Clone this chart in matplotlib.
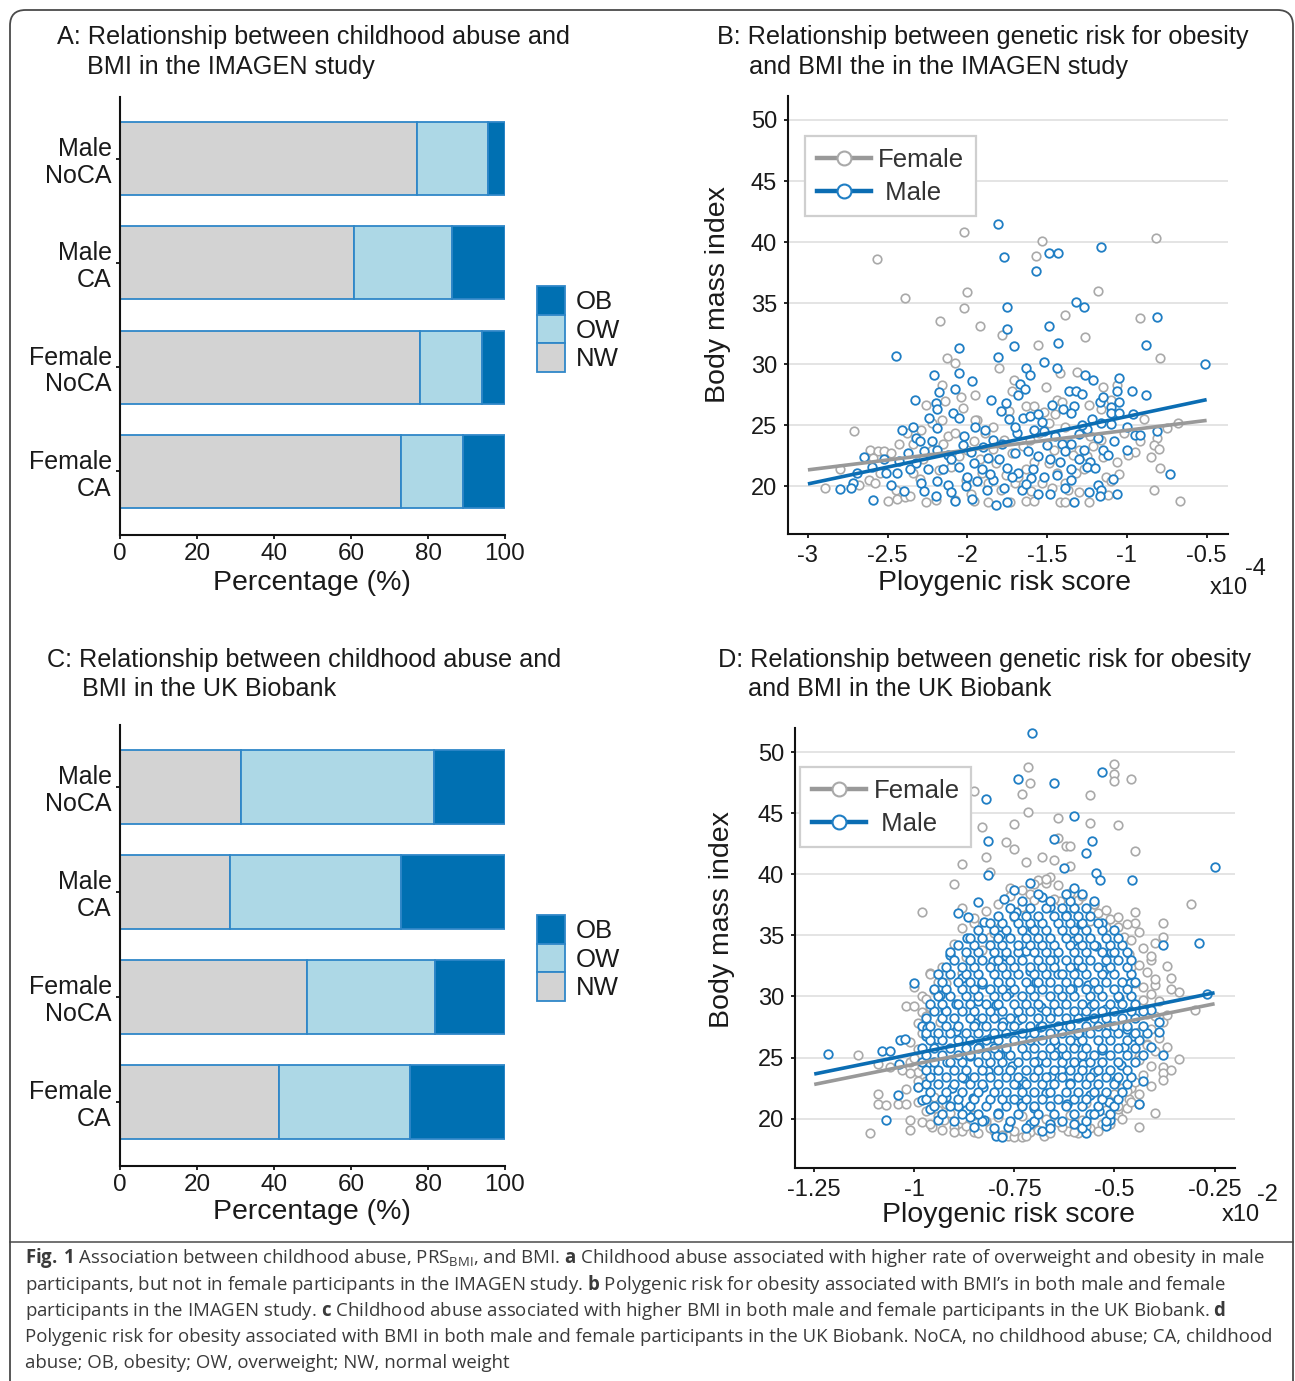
import numpy as np
import matplotlib
matplotlib.use("Agg")
import matplotlib.pyplot as plt
from matplotlib.lines import Line2D
from matplotlib.patches import Patch, FancyBboxPatch

plt.rcParams['font.family'] = ['Liberation Sans', 'DejaVu Sans']
plt.rcParams['mathtext.fontset'] = 'custom'
plt.rcParams['mathtext.rm'] = 'Open Sans'
plt.rcParams['mathtext.bf'] = 'Open Sans:bold'

W, H = 1295, 1381


def fx(px):
    return px / W


def fy(py):
    return 1 - py / H


# ---------------- data ----------------
groups = ['Male\nNoCA', 'Male\nCA', 'Female\nNoCA', 'Female\nCA']
weight_classes = ['OB', 'OW', 'NW']

# IMAGEN (panel A), percentages
imagen_nw = [77.1, 60.8, 77.9, 73.0]
imagen_ow = [18.5, 25.4, 16.1, 16.1]
imagen_ob = [4.4, 13.8, 6.0, 10.9]

# UK Biobank (panel C), percentages
ukb_nw = [31.4, 28.6, 48.6, 41.3]
ukb_ow = [50.2, 44.4, 33.2, 34.0]
ukb_ob = [18.4, 27.0, 18.2, 24.7]

# panel B: PRS (x1e-4) vs BMI
b_female = [
    (-2.57, 38.6), (-2.02, 40.8), (-1.53, 40.1), (-1.57, 38.9), (-0.82, 40.3), (-2.39, 35.4), (-2.00, 35.9),
    (-2.02, 34.6), (-1.18, 36.0), (-1.39, 34.0), (-0.92, 33.8), (-2.17, 33.5), (-1.92, 33.1), (-1.78, 32.4),
    (-1.56, 31.6), (-1.26, 32.2), (-0.79, 30.5), (-2.13, 30.5), (-2.08, 30.1), (-1.80, 29.7), (-1.42, 29.3),
    (-1.31, 29.4), (-1.71, 28.7), (-2.16, 28.3), (-1.51, 28.1), (-1.15, 28.1), (-1.72, 27.8), (-1.06, 28.3),
    (-1.95, 27.5), (-2.14, 27.0), (-2.26, 26.7), (-2.04, 27.3), (-1.44, 27.1), (-1.41, 26.9), (-1.63, 26.6),
    (-1.58, 26.6), (-1.24, 26.7), (-1.74, 26.2), (-2.03, 26.4), (-1.52, 26.1), (-1.16, 26.3), (-1.10, 27.1),
    (-2.16, 25.4), (-1.94, 25.4), (-0.89, 25.5), (-0.68, 25.2), (-0.75, 24.8), (-2.71, 24.5), (-2.43, 23.5),
    (-0.81, 24.0), (-0.83, 23.4), (-0.80, 23.1), (-1.16, 23.8), (-1.06, 22.0), (-0.95, 22.8), (-0.99, 22.6),
    (-0.79, 21.5), (-0.83, 19.7), (-0.67, 18.8), (-1.13, 20.8), (-1.10, 20.4), (-2.80, 21.4), (-2.89, 19.9),
    (-2.61, 23.0), (-2.56, 22.9), (-2.52, 22.9), (-2.48, 22.7), (-2.59, 22.3), (-2.50, 18.8), (-2.44, 19.0),
    (-2.39, 19.1), (-2.36, 19.2), (-2.26, 18.7), (-2.20, 18.9), (-2.08, 18.9), (-1.96, 18.8), (-1.87, 18.7),
    (-1.73, 18.7), (-1.63, 18.8), (-1.58, 18.8), (-1.42, 18.7), (-1.39, 18.7), (-1.24, 18.7), (-1.37, 19.7),
    (-1.30, 19.5), (-2.62, 20.5), (-2.58, 20.3), (-2.68, 20.1), (-2.55, 21.1), (-2.45, 19.7), (-2.34, 21.1),
    (-2.28, 22.2), (-2.22, 23.0), (-2.12, 24.1), (-2.08, 24.4), (-2.15, 23.5), (-2.05, 22.5), (-2.00, 23.0),
    (-1.96, 23.7), (-2.10, 21.6), (-1.91, 21.1), (-2.01, 20.5), (-1.87, 20.3), (-1.79, 19.7), (-1.70, 20.3),
    (-1.68, 20.8), (-1.63, 21.4), (-1.82, 21.9), (-1.72, 22.7), (-1.65, 23.3), (-1.61, 23.8), (-1.55, 24.4),
    (-1.49, 25.2), (-1.45, 25.9), (-1.39, 24.9), (-1.37, 23.5), (-1.30, 23.0), (-1.25, 22.5), (-1.21, 23.3),
    (-1.23, 24.1), (-1.49, 21.9), (-1.44, 21.1), (-1.53, 20.3), (-1.39, 20.3), (-1.32, 21.1), (-1.77, 23.8),
    (-1.84, 24.9), (-1.89, 24.4), (-1.95, 25.4), (-2.22, 25.2), (-2.29, 24.6), (-2.38, 24.4), (-2.34, 23.5),
    (-1.92, 22.2), (-1.84, 23.1), (-1.58, 22.0), (-1.46, 23.0), (-1.34, 22.6), (-1.27, 21.4), (-1.15, 22.4),
    (-1.05, 21.0), (-2.18, 21.3), (-2.30, 20.6), (-1.98, 19.4), (-1.76, 20.9), (-1.60, 19.6), (-1.47, 19.9),
    (-1.12, 19.3), (-1.02, 24.4), (-0.92, 23.7), (-0.85, 22.4),
]
b_male = [
    (-1.81, 41.5), (-1.77, 38.8), (-1.49, 39.1), (-1.43, 39.1), (-1.16, 39.6), (-1.57, 37.6), (-1.32, 35.1),
    (-1.27, 34.7), (-1.75, 34.7), (-0.81, 33.9), (-1.75, 32.9), (-1.49, 33.1), (-2.05, 31.3), (-1.71, 31.5),
    (-1.43, 31.7), (-0.88, 31.6), (-2.45, 30.7), (-1.81, 30.6), (-1.52, 30.2), (-1.63, 29.7), (-1.44, 29.7),
    (-0.51, 30.0), (-2.21, 29.1), (-2.05, 29.3), (-1.61, 29.1), (-1.26, 29.1), (-1.05, 28.9), (-1.21, 28.7),
    (-1.97, 28.6), (-1.67, 28.4), (-2.08, 28.0), (-2.18, 27.7), (-1.64, 28.0), (-1.68, 27.5), (-1.36, 27.8),
    (-1.32, 27.8), (-1.28, 27.6), (-0.97, 27.8), (-1.06, 27.8), (-0.88, 27.5), (-2.33, 27.1), (-1.85, 27.1),
    (-2.20, 26.8), (-1.76, 26.8), (-1.17, 26.9), (-1.15, 27.3), (-1.05, 26.9), (-1.10, 26.5), (-2.19, 26.3),
    (-1.79, 26.2), (-1.47, 26.7), (-1.33, 26.6), (-1.40, 26.3), (-1.10, 26.0), (-1.05, 26.0), (-0.96, 25.9),
    (-2.09, 26.0), (-2.05, 25.6), (-2.24, 25.6), (-1.74, 25.5), (-1.65, 25.6), (-1.61, 25.8), (-1.53, 25.3),
    (-1.22, 25.5), (-1.16, 25.2), (-2.34, 24.9), (-2.19, 24.8), (-1.95, 24.9), (-1.89, 24.6), (-2.41, 24.6),
    (-1.58, 24.6), (-1.52, 24.5), (-1.00, 24.9), (-0.81, 24.5), (-1.69, 24.4), (-1.25, 24.7), (-2.32, 24.0),
    (-2.02, 24.1), (-1.84, 23.8), (-0.95, 24.2), (-0.92, 24.2), (-2.30, 23.7), (-2.22, 23.7), (-1.41, 23.5),
    (-1.35, 23.5), (-2.65, 22.4), (-2.37, 22.7), (-2.27, 22.9), (-2.19, 23.0), (-2.12, 22.6), (-1.70, 22.7),
    (-1.39, 22.9), (-1.27, 23.0), (-1.15, 23.0), (-1.00, 23.0), (-2.52, 22.2), (-2.43, 22.1), (-2.32, 21.9),
    (-2.10, 22.2), (-1.96, 21.9), (-1.87, 22.3), (-1.80, 22.2), (-1.56, 22.5), (-1.48, 22.2), (-1.30, 22.2),
    (-1.23, 22.0), (-2.60, 21.6), (-2.51, 21.1), (-2.44, 21.1), (-2.36, 21.4), (-2.25, 21.4), (-2.15, 21.4),
    (-2.05, 21.6), (-1.91, 21.4), (-1.75, 21.5), (-1.68, 21.1), (-1.59, 21.4), (-1.35, 21.4), (-1.25, 21.6),
    (-0.73, 21.0), (-2.69, 21.1), (-2.72, 20.3), (-2.48, 20.1), (-2.29, 20.3), (-2.19, 20.4), (-2.12, 20.1),
    (-2.00, 20.8), (-1.94, 20.4), (-1.84, 20.5), (-1.72, 20.8), (-1.60, 20.7), (-1.52, 20.8), (-1.44, 20.9),
    (-1.35, 20.5), (-1.18, 20.1), (-1.09, 20.6), (-2.80, 19.8), (-2.73, 19.9), (-2.40, 19.6), (-2.27, 19.6),
    (-2.10, 19.5), (-2.01, 20.0), (-1.88, 19.7), (-1.77, 19.9), (-1.56, 19.4), (-1.48, 19.4), (-1.24, 19.5),
    (-1.16, 19.7), (-1.06, 19.4), (-2.59, 18.9), (-2.20, 19.2), (-2.08, 18.8), (-1.97, 19.0), (-1.82, 18.5),
    (-1.75, 18.7), (-1.33, 18.7), (-1.17, 19.2), (-1.66, 19.7), (-1.39, 19.9), (-1.90, 23.2), (-1.78, 23.5),
    (-1.62, 22.9), (-1.50, 23.4), (-1.45, 24.1), (-1.30, 24.3), (-1.18, 24.0), (-1.08, 23.7), (-1.98, 22.8),
    (-1.86, 21.0), (-1.63, 20.2), (-1.42, 22.0), (-1.20, 21.5), (-1.12, 22.6), (-2.03, 23.4), (-1.70, 24.9),
    (-1.56, 25.9), (-1.35, 26.0), (-1.28, 25.0), (-1.10, 25.1),
]
b_fit_x = [-3.0, -0.5]
b_fit_female = [21.35, 25.4]
b_fit_male = [20.2, 27.1]

# panel D: PRS (x1e-2) vs BMI
d_female = [
    (-0.715, 48.8), (-0.71, 47.5), (-0.50, 49.0), (-0.50, 48.2), (-0.50, 47.6), (-0.46, 47.8), (-0.85, 46.8),
    (-0.73, 46.6), (-0.56, 46.5), (-0.715, 45.1), (-0.64, 44.6), (-0.56, 44.2), (-0.49, 44.0), (-0.89, 43.8),
    (-0.83, 43.9), (-0.75, 44.1), (-0.64, 43.0), (-0.77, 42.6), (-0.75, 42.1), (-0.62, 42.3), (-0.61, 42.3),
    (-0.45, 41.9), (-0.82, 41.4), (-0.68, 41.4), (-0.72, 41.0), (-0.65, 41.2), (-0.88, 40.8), (-0.81, 40.2),
    (-0.61, 40.7), (-0.90, 39.2), (-0.76, 38.9), (-0.98, 36.9), (-0.88, 37.2), (-0.85, 36.0), (-0.31, 37.6),
    (-0.45, 36.9), (-0.45, 36.0), (-0.38, 36.0), (-0.38, 34.9), (-0.40, 34.4), (-0.41, 33.0), (-0.36, 31.5),
    (-0.40, 30.9), (-0.34, 30.4), (-0.30, 28.9), (-0.34, 24.9), (-0.38, 24.2), (-0.38, 23.7), (-0.41, 22.7),
    (-0.40, 20.5), (-0.44, 19.3), (-0.465, 21.6), (-0.46, 22.5), (-0.48, 22.5), (-1.14, 25.2), (-1.09, 24.5),
    (-1.06, 24.2), (-1.03, 24.0), (-1.01, 24.6), (-0.99, 23.8), (-1.09, 22.0), (-1.09, 21.2), (-1.07, 21.1),
    (-1.04, 21.2), (-1.02, 21.2), (-1.01, 19.9), (-1.01, 19.1), (-1.11, 18.8), (-0.98, 19.7), (-0.955, 19.3),
    (-1.02, 29.2), (-1.00, 29.2), (-0.98, 28.7), (-0.98, 30.0), (-1.00, 30.8), (-0.96, 31.9), (-0.92, 31.1),
    (-0.935, 27.9), (-0.99, 22.6), (-0.97, 23.1), (-0.94, 20.7), (-0.925, 19.9), (-0.90, 19.3), (-0.88, 19.0),
    (-0.85, 18.9), (-0.80, 19.0), (-0.765, 18.6), (-0.75, 18.5), (-0.73, 18.5), (-0.71, 18.9), (-0.675, 18.6),
    (-0.615, 19.0), (-0.59, 18.8), (-0.56, 19.2), (-0.53, 19.6), (-0.49, 20.3), (-0.49, 20.8), (-0.47, 20.9),
    (-0.44, 21.2), (-0.44, 25.1), (-0.42, 26.1), (-0.44, 27.1), (-0.42, 28.6), (-0.43, 29.7), (-0.45, 31.1),
    (-0.46, 32.4), (-0.465, 33.5), (-0.475, 34.9), (-0.49, 35.7), (-0.51, 36.3), (-0.54, 36.8), (-0.55, 37.6),
    (-0.59, 37.9), (-0.635, 37.8), (-0.66, 39.8), (-0.67, 39.3), (-0.69, 39.5), (-0.71, 38.4), (-0.73, 37.3),
    (-0.75, 36.5), (-0.785, 35.7), (-0.81, 34.9), (-0.83, 33.8), (-0.86, 33.0), (-0.88, 31.9),
    # lower band
    (-0.96, 19.6), (-0.93, 19.1), (-0.90, 18.9), (-0.87, 19.4), (-0.84, 18.8), (-0.81, 19.2), (-0.78, 18.7),
    (-0.75, 19.0), (-0.72, 18.6), (-0.69, 19.1), (-0.66, 18.8), (-0.63, 19.3), (-0.60, 18.9), (-0.57, 19.4),
    (-0.54, 19.0), (-0.51, 19.6), (-0.48, 20.0), (-0.97, 20.6), (-0.94, 20.2), (-0.91, 20.5), (-0.88, 20.0),
    (-0.85, 20.3), (-0.82, 19.8), (-0.79, 20.1), (-0.76, 19.7), (-0.73, 20.2), (-0.70, 19.8), (-0.67, 20.0),
    (-0.64, 19.7), (-0.61, 20.3), (-0.58, 19.9), (-0.55, 20.4), (-0.52, 20.7), (-0.49, 21.0), (-0.46, 21.4),
    (-0.99, 21.4), (-0.95, 21.8), (-0.92, 21.2), (-0.62, 21.1), (-0.57, 21.3), (-0.53, 21.7), (-0.50, 22.0),
    (-0.47, 22.3), (-0.44, 22.0),
    # right edge
    (-0.45, 23.0), (-0.43, 23.6), (-0.41, 24.3), (-0.44, 24.8), (-0.40, 25.5), (-0.42, 26.0), (-0.39, 26.6),
    (-0.41, 27.3), (-0.38, 27.9), (-0.40, 28.4), (-0.42, 29.0), (-0.39, 29.6), (-0.41, 30.2), (-0.43, 30.8),
    (-0.40, 31.4), (-0.42, 32.0), (-0.44, 32.6), (-0.41, 33.3), (-0.43, 34.0), (-0.46, 34.6), (-0.44, 35.3),
    (-0.47, 35.9), (-0.49, 36.5), (-0.52, 37.1), (-0.55, 37.6), (-0.58, 38.2), (-0.37, 25.9), (-0.36, 24.0),
    (-0.38, 23.2), (-0.37, 28.5), (-0.36, 30.6), (-0.37, 32.5),
    # upper part
    (-0.88, 35.6), (-0.85, 36.4), (-0.82, 37.0), (-0.79, 37.6), (-0.76, 38.2), (-0.73, 38.7), (-0.70, 39.2),
    (-0.67, 39.6), (-0.64, 39.1), (-0.61, 38.5), (-0.75, 36.8), (-0.70, 37.9), (-0.65, 38.0), (-0.60, 37.2),
    (-0.56, 36.2), (-0.52, 35.7), (-0.80, 35.2), (-0.90, 34.3), (-0.87, 33.2),
    # left edge
    (-1.02, 22.4), (-0.99, 23.1), (-1.01, 23.7), (-0.98, 24.3), (-1.00, 25.0), (-0.99, 25.7), (-1.01, 26.3),
    (-0.98, 27.0), (-0.99, 27.8), (-0.97, 28.4), (-0.96, 29.1), (-0.97, 29.8), (-0.95, 30.5), (-0.94, 31.2),
    (-0.96, 31.8), (-0.93, 32.4),
]
d_male = [
    (-0.705, 51.6), (-0.74, 47.8), (-0.65, 47.5), (-0.53, 48.4), (-0.82, 46.2), (-0.60, 44.8), (-0.65, 42.9),
    (-0.816, 42.7), (-0.555, 42.7), (-0.57, 41.7), (-0.625, 40.5), (-0.815, 39.9), (-0.545, 40.1), (-0.535, 39.5),
    (-0.456, 39.5), (-0.25, 40.6), (-0.71, 39.3), (-0.84, 37.7), (-0.775, 38.0), (-0.865, 36.5), (-0.29, 34.4),
    (-0.38, 34.2), (-0.27, 30.2), (-1.216, 25.3), (-1.08, 25.5), (-1.06, 25.5), (-1.036, 26.4), (-1.024, 26.5),
    (-1.037, 24.5), (-1.04, 21.9), (-1.07, 19.9), (-1.00, 31.1), (-0.98, 27.6), (-0.97, 26.8), (-0.99, 22.6),
    (-0.44, 21.2), (-0.43, 23.1), (-0.38, 25.2), (-0.41, 25.9), (-0.39, 27.1), (-0.39, 27.9), (-0.41, 28.9),
    (-0.52, 19.4), (-0.51, 19.9), (-0.57, 18.8), (-0.56, 20.4), (-0.60, 19.6), (-0.68, 19.0), (-0.66, 19.6),
    (-0.71, 19.6), (-0.765, 19.3), (-0.795, 18.6), (-0.78, 18.5), (-0.825, 19.9), (-0.85, 19.3), (-0.86, 20.1),
    (-0.89, 21.0), (-0.92, 21.8), (-0.96, 20.8), (-0.98, 21.5), (-0.94, 19.9),
    # scattered inside the dense cloud
    (-0.905, 22.5), (-0.862, 25.1), (-0.815, 23.9), (-0.778, 27.9), (-0.733, 21.3), (-0.691, 24.7),
    (-0.648, 26.1), (-0.612, 22.9), (-0.574, 28.4), (-0.532, 25.6), (-0.497, 23.2), (-0.468, 27.3),
    (-0.924, 28.9), (-0.881, 31.5), (-0.842, 29.6), (-0.803, 32.9), (-0.764, 30.3), (-0.722, 33.7),
    (-0.683, 29.1), (-0.641, 31.8), (-0.603, 34.5), (-0.566, 30.9), (-0.527, 32.2), (-0.488, 29.9),
    (-0.944, 26.5), (-0.897, 27.2), (-0.853, 21.7), (-0.808, 26.6), (-0.757, 24.3), (-0.716, 26.9),
    (-0.671, 22.1), (-0.629, 25.3), (-0.589, 27.0), (-0.552, 23.8), (-0.513, 21.4), (-0.476, 25.9),
    (-0.912, 33.4), (-0.869, 34.8), (-0.826, 36.1), (-0.787, 35.0), (-0.745, 36.9), (-0.706, 35.6),
    (-0.662, 37.3), (-0.621, 36.7), (-0.583, 35.9), (-0.545, 34.1), (-0.508, 33.6), (-0.871, 20.7),
    (-0.829, 22.6), (-0.791, 20.5), (-0.747, 22.8), (-0.702, 20.9), (-0.659, 23.5), (-0.618, 21.2),
    (-0.578, 24.5), (-0.538, 20.6), (-0.955, 24.0), (-0.935, 30.1), (-0.896, 29.4), (-0.848, 27.8),
    (-0.796, 29.3), (-0.741, 28.1), (-0.697, 31.2), (-0.655, 28.7), (-0.607, 30.6), (-0.559, 29.2),
    (-0.517, 27.7), (-0.462, 31.1), (-0.968, 27.4), (-0.918, 24.6), (-0.877, 23.3), (-0.838, 25.9),
    (-0.787, 25.2), (-0.728, 23.1), (-0.686, 27.5), (-0.634, 24.0), (-0.596, 26.2), (-0.562, 21.9),
    (-0.521, 29.0), (-0.484, 24.4), (-0.453, 26.8), (-0.89, 36.8), (-0.83, 31.0), (-0.77, 33.3),
    (-0.71, 32.1), (-0.65, 33.0), (-0.59, 32.6), (-0.53, 36.0), (-0.75, 38.7), (-0.68, 38.1), (-0.60, 38.9),
]
# dense male core of panel D, read row by row (BMI level, PRS values)
d_male_core_y = [19.2, 19.8, 20.4, 21.0, 21.6, 22.2, 22.8, 23.4, 24.0, 24.6, 25.2, 25.8, 26.4, 27.0, 27.6, 28.2,
                 28.8, 29.4, 30.0, 30.6, 31.2, 31.8, 32.4, 33.0, 33.6, 34.2, 34.8, 35.4, 36.0, 36.6, 37.2, 37.8, 38.4]
d_male_core_x = [
    [-0.80, -0.72, -0.66, -0.58],
    [-0.90, -0.83, -0.76, -0.70, -0.63, -0.57, -0.52],
    [-0.93, -0.88, -0.84, -0.79, -0.74, -0.69, -0.65, -0.60, -0.55, -0.51],
    [-0.95, -0.91, -0.86, -0.82, -0.77, -0.73, -0.70, -0.66, -0.62, -0.58, -0.54, -0.50],
    [-0.97, -0.93, -0.89, -0.85, -0.81, -0.78, -0.75, -0.72, -0.68, -0.64, -0.60, -0.57, -0.53, -0.49],
    [-0.96, -0.92, -0.88, -0.84, -0.80, -0.77, -0.73, -0.70, -0.66, -0.62, -0.59, -0.55, -0.52, -0.48],
    [-0.97, -0.94, -0.90, -0.86, -0.83, -0.79, -0.75, -0.72, -0.68, -0.65, -0.61, -0.57, -0.54, -0.50, -0.47],
    [-0.96, -0.92, -0.88, -0.85, -0.81, -0.77, -0.74, -0.70, -0.67, -0.63, -0.59, -0.56, -0.52, -0.49, -0.46],
    [-0.97, -0.94, -0.90, -0.87, -0.83, -0.79, -0.76, -0.72, -0.69, -0.65, -0.61, -0.58, -0.54, -0.51, -0.47],
    [-0.98, -0.95, -0.91, -0.88, -0.84, -0.81, -0.78, -0.74, -0.70, -0.67, -0.63, -0.60, -0.56, -0.53, -0.49, -0.45],
    [-0.97, -0.93, -0.89, -0.86, -0.82, -0.79, -0.76, -0.72, -0.68, -0.65, -0.62, -0.58, -0.55, -0.51, -0.47, -0.43],
    [-0.98, -0.95, -0.91, -0.87, -0.84, -0.80, -0.77, -0.73, -0.70, -0.66, -0.63, -0.60, -0.57, -0.53, -0.49, -0.45],
    [-0.96, -0.93, -0.89, -0.86, -0.82, -0.79, -0.75, -0.71, -0.68, -0.65, -0.61, -0.58, -0.54, -0.51, -0.47, -0.44],
    [-0.97, -0.94, -0.91, -0.87, -0.84, -0.80, -0.77, -0.73, -0.70, -0.66, -0.63, -0.59, -0.56, -0.52, -0.49, -0.45, -0.42],
    [-0.96, -0.92, -0.89, -0.85, -0.82, -0.78, -0.75, -0.71, -0.68, -0.64, -0.61, -0.57, -0.54, -0.50, -0.47, -0.43],
    [-0.97, -0.93, -0.90, -0.86, -0.83, -0.80, -0.76, -0.73, -0.69, -0.66, -0.62, -0.59, -0.55, -0.52, -0.48, -0.45],
    [-0.95, -0.92, -0.88, -0.85, -0.81, -0.78, -0.74, -0.71, -0.67, -0.64, -0.60, -0.57, -0.53, -0.50, -0.46, -0.43],
    [-0.96, -0.93, -0.89, -0.86, -0.82, -0.79, -0.75, -0.72, -0.69, -0.65, -0.62, -0.58, -0.55, -0.51, -0.48, -0.45],
    [-0.94, -0.91, -0.87, -0.84, -0.80, -0.77, -0.73, -0.70, -0.66, -0.63, -0.60, -0.56, -0.53, -0.49, -0.46],
    [-0.95, -0.92, -0.88, -0.85, -0.81, -0.78, -0.75, -0.71, -0.68, -0.64, -0.61, -0.57, -0.54, -0.50, -0.47],
    [-0.93, -0.89, -0.86, -0.83, -0.79, -0.76, -0.72, -0.69, -0.66, -0.62, -0.59, -0.55, -0.52, -0.48, -0.45],
    [-0.94, -0.91, -0.87, -0.84, -0.80, -0.77, -0.74, -0.70, -0.67, -0.63, -0.60, -0.57, -0.53, -0.50, -0.46],
    [-0.92, -0.88, -0.85, -0.81, -0.78, -0.75, -0.71, -0.68, -0.65, -0.61, -0.58, -0.54, -0.51, -0.47],
    [-0.90, -0.86, -0.83, -0.79, -0.76, -0.73, -0.69, -0.66, -0.62, -0.59, -0.56, -0.52, -0.49, -0.46],
    [-0.91, -0.87, -0.84, -0.80, -0.77, -0.74, -0.70, -0.67, -0.64, -0.60, -0.57, -0.53, -0.50, -0.47],
    [-0.89, -0.85, -0.81, -0.78, -0.74, -0.71, -0.68, -0.65, -0.61, -0.58, -0.55, -0.51, -0.48],
    [-0.86, -0.83, -0.79, -0.76, -0.72, -0.69, -0.66, -0.62, -0.59, -0.56, -0.52, -0.49],
    [-0.84, -0.80, -0.77, -0.73, -0.70, -0.67, -0.63, -0.60, -0.57, -0.53, -0.50],
    [-0.81, -0.78, -0.74, -0.71, -0.68, -0.64, -0.61, -0.58, -0.54],
    [-0.79, -0.75, -0.72, -0.69, -0.65, -0.62, -0.59, -0.56],
    [-0.76, -0.71, -0.67, -0.63, -0.60, -0.57],
    [-0.73, -0.66, -0.61, -0.55],
    [-0.69, -0.62, -0.58],
]
d_fit_x = [-1.25, -0.25]
d_fit_female = [22.8, 29.4]
d_fit_male = [23.65, 30.3]

caption_lines = [
    r'$\mathbf{Fig.\,1}$ Association between childhood abuse, $\mathrm{PRS}_{\mathrm{BMI}}$, and BMI. '
    r'$\mathbf{a}$ Childhood abuse associated with higher rate of overweight and obesity in male',
    r'participants, but not in female participants in the IMAGEN study. $\mathbf{b}$ Polygenic risk for obesity '
    r'associated with BMI’s in both male and female',
    r'participants in the IMAGEN study. $\mathbf{c}$ Childhood abuse associated with higher BMI in both male and '
    r'female participants in the UK Biobank. $\mathbf{d}$',
    'Polygenic risk for obesity associated with BMI in both male and female participants in the UK Biobank. '
    'NoCA, no childhood abuse; CA, childhood',
    'abuse; OB, obesity; OW, overweight; NW, normal weight',
]

# ---------------- style ----------------
c_nw, c_ow, c_ob = '#d3d3d3', '#add8e6', '#0070b2'
c_edge = '#2f87c8'
c_fem, c_mal = '#a9a9a9', '#1f7ec4'
c_fem_line, c_mal_line = '#999999', '#0b6db3'
txt = '#1a1a1a'

fig = plt.figure(figsize=(W / 100, H / 100), dpi=100)


def bar_panel(ax, nw, ow, ob):
    pos = np.arange(len(groups))
    left = np.zeros(len(groups))
    for vals, col in [(nw, c_nw), (ow, c_ow), (ob, c_ob)]:
        ax.barh(pos, vals, left=left, height=0.7, color=col, edgecolor=c_edge, linewidth=1.3)
        left = left + np.array(vals)
    ax.set_xlim(0, 100)
    ax.set_ylim(3.61, -0.59)
    ax.set_yticks(pos)
    ax.set_yticklabels(groups, fontsize=18, linespacing=1.15, color=txt)
    for t in ax.get_yticklabels():
        t.set_multialignment('right')
    ax.set_xticks(range(0, 101, 20))
    ax.tick_params(axis='x', labelsize=17.5, length=3, width=1.2, pad=2.5, labelcolor=txt)
    ax.tick_params(axis='y', length=3, width=1.2, pad=3)
    for s in ['top', 'right']:
        ax.spines[s].set_visible(False)
    for s in ['left', 'bottom']:
        ax.spines[s].set_linewidth(1.5)
        ax.spines[s].set_color('#111111')


def bar_legend(ycenter):
    handles = [Patch(facecolor=c, edgecolor=c_edge, linewidth=1.3) for c in (c_ob, c_ow, c_nw)]
    fig.legend(handles, weight_classes, loc='center left', bbox_to_anchor=(fx(537), fy(ycenter)),
               frameon=False, fontsize=18.5, handlelength=1.1, handleheight=1.33, labelspacing=0,
               handletextpad=0.4, borderpad=0, borderaxespad=0, labelcolor=txt)


def scatter_panel(ax, fem, mal, fit_x, fit_f, fit_m, xlim, ylim, xticks, xticklabels, leg_anchor):
    fxv, fyv = zip(*fem)
    mxv, myv = zip(*mal)
    ax.scatter(fxv, fyv, s=38, facecolors='white', edgecolors=c_fem, linewidths=1.2, zorder=2)
    ax.scatter(mxv, myv, s=38, facecolors='white', edgecolors=c_mal, linewidths=1.3, zorder=3)
    ax.plot(fit_x, fit_f, color=c_fem_line, lw=2.6, zorder=4, solid_capstyle='butt')
    ax.plot(fit_x, fit_m, color=c_mal_line, lw=2.6, zorder=5, solid_capstyle='butt')
    ax.set_xlim(*xlim)
    ax.set_ylim(*ylim)
    ax.set_yticks(range(20, 51, 5))
    ax.set_xticks(xticks)
    ax.set_xticklabels(xticklabels)
    ax.yaxis.grid(True, color='#e2e2e2', lw=1.3)
    ax.set_axisbelow(True)
    ax.tick_params(labelsize=17, length=3, width=1.2, pad=5, labelcolor=txt)
    for s in ['top', 'right']:
        ax.spines[s].set_visible(False)
    for s in ['left', 'bottom']:
        ax.spines[s].set_linewidth(1.5)
        ax.spines[s].set_color('#111111')
    handles = [Line2D([], [], color=c_fem_line, lw=3.2, marker='o', ms=10, mfc='white', mec=c_fem, mew=1.5),
               Line2D([], [], color=c_mal_line, lw=3.2, marker='o', ms=10, mfc='white', mec=c_mal, mew=1.5)]
    leg = ax.legend(handles, ['Female', ' Male'], loc='upper left', bbox_to_anchor=leg_anchor, fontsize=18.5,
                    frameon=True, fancybox=False, edgecolor='#cfcfcf', framealpha=1, borderaxespad=0,
                    handlelength=2.1, handletextpad=0.3, labelspacing=0.35, borderpad=0.45, labelcolor='#333333')
    leg.get_frame().set_linewidth(1.6)
    leg.set_zorder(10)


# panel A
axA = fig.add_axes([fx(120), fy(535), fx(505) - fx(120), fy(97) - fy(535)])
bar_panel(axA, imagen_nw, imagen_ow, imagen_ob)
bar_legend(329)

# panel C
axC = fig.add_axes([fx(120), fy(1166), fx(505) - fx(120), fy(725) - fy(1166)])
bar_panel(axC, ukb_nw, ukb_ow, ukb_ob)
bar_legend(958)

# panel B
axB = fig.add_axes([fx(788), fy(534), fx(1228) - fx(788), fy(96) - fy(534)])
scatter_panel(axB, b_female, b_male, b_fit_x, b_fit_female, b_fit_male,
              (-3.125, -0.366), (16.1, 51.96), [-3, -2.5, -2, -1.5, -1, -0.5],
              ['-3', '-2.5', '-2', '-1.5', '-1', '-0.5'], (0.0386, 0.9087))

# panel D
d_male_all = list(d_male)
for yv, row in zip(d_male_core_y, d_male_core_x):
    d_male_all += [(xv, yv) for xv in row]
axD = fig.add_axes([fx(795), fy(1168), fx(1235) - fx(795), fy(728) - fy(1168)])
scatter_panel(axD, d_female, d_male_all, d_fit_x, d_fit_female, d_fit_male,
              (-1.298, -0.199), (15.96, 51.97), [-1.25, -1, -0.75, -0.5, -0.25],
              ['-1.25', '-1', '-0.75', '-0.5', '-0.25'], (0.012, 0.9114))

# titles and labels
tkw = dict(fontsize=18.2, color=txt, va='center', ha='left')
fig.text(fx(57), fy(37), 'A: Relationship between childhood abuse and', **tkw)
fig.text(fx(87), fy(67), 'BMI in the IMAGEN study', **tkw)
fig.text(fx(717), fy(37), 'B: Relationship between genetic risk for obesity', **tkw)
fig.text(fx(749), fy(67), 'and BMI the in the IMAGEN study', **tkw)
fig.text(fx(47), fy(660), 'C: Relationship between childhood abuse and', **tkw)
fig.text(fx(82), fy(689), 'BMI in the UK Biobank', **tkw)
fig.text(fx(718), fy(660), 'D: Relationship between genetic risk for obesity', **tkw)
fig.text(fx(748), fy(689), 'and BMI in the UK Biobank', **tkw)

lkw = dict(fontsize=20.5, color=txt, va='center', ha='center')
fig.text(fx(312), fy(583), 'Percentage (%)', **lkw)
fig.text(fx(312), fy(1212), 'Percentage (%)', **lkw)
fig.text(fx(1005), fy(583), 'Ploygenic risk score', **lkw)
fig.text(fx(1009), fy(1215), 'Ploygenic risk score', **lkw)
fig.text(fx(718), fy(295), 'Body mass index', rotation=90, **lkw)
fig.text(fx(722), fy(920), 'Body mass index', rotation=90, **lkw)

ekw = dict(fontsize=17, color=txt, va='center', ha='center')
fig.text(fx(1229), fy(588), 'x10', **ekw)
fig.text(fx(1255), fy(569), '-4', **ekw)
fig.text(fx(1241), fy(1215), 'x10', **ekw)
fig.text(fx(1267), fy(1195), '-2', **ekw)

# frame and caption box
frame = FancyBboxPatch((fx(10), fy(1400)), fx(1293) - fx(10), fy(10) - fy(1400),
                       boxstyle='round,pad=0,rounding_size=0.012', mutation_aspect=W / H,
                       transform=fig.transFigure, fill=False, edgecolor='#4a4a4a', lw=1.3)
fig.add_artist(frame)
fig.add_artist(Line2D([fx(10), fx(1293)], [fy(1242), fy(1242)], transform=fig.transFigure,
                      color='#4a4a4a', lw=1.1))

cap_y = [1258, 1284, 1311, 1337, 1363]
cap_texts = []
for line, yc in zip(caption_lines, cap_y):
    cap_texts.append(fig.text(fx(25), fy(yc), line, ha='left', va='center', fontsize=12,
                              family='Open Sans', color='#3a3a3a'))
fig.canvas.draw()
w0 = cap_texts[3].get_window_extent().width
for t in cap_texts:
    t.set_fontsize(12 * 1244 / w0)

fig.savefig('out.png', dpi=100)
